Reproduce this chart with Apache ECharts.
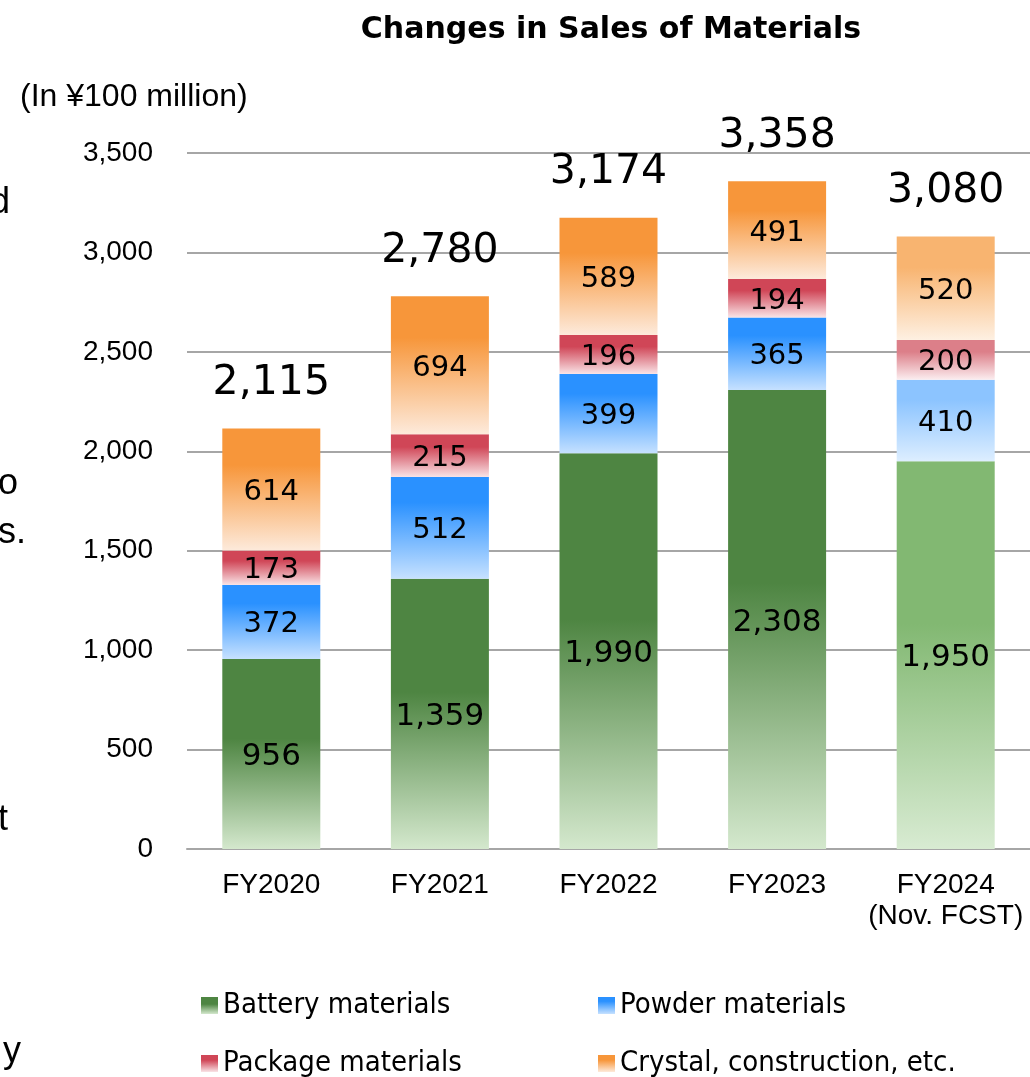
<!DOCTYPE html>
<html lang="en" style="height: 100%">

<head>
  <meta charset="utf-8">
</head>

<body style="height: 100%; margin: 0">
  <div id="container" style="width: 1030px; height: 1077px"></div>

  <script type="text/javascript" src="https://fastly.jsdelivr.net/npm/echarts@6/dist/echarts.min.js"></script>
  <script type="text/javascript">
    // values (In ¥100 million)
    var categories = ['FY2020', 'FY2021', 'FY2022', 'FY2023', 'FY2024\n(Nov. FCST)'];
    var battery = [956, 1359, 1990, 2308, 1950];
    var powder = [372, 512, 399, 365, 410];
    var packageMat = [173, 215, 196, 194, 200];
    var crystal = [614, 694, 589, 491, 520];
    var totals = [2115, 2780, 3174, 3358, 3080];
    var forecastIndex = 4;

    var dom = document.getElementById('container');
    var myChart = echarts.init(dom, null, { renderer: 'canvas' });

    function commas(v) {
      return echarts.format.addCommas(v);
    }

    // solid colour at the top, fading out toward the bottom of each segment
    function grad(top, bottom, hold) {
      return new echarts.graphic.LinearGradient(0, 0, 0, 1, [
        { offset: 0, color: top },
        { offset: hold, color: top },
        { offset: 1, color: bottom }
      ]);
    }

    function barSeries(name, values, colors, fcColors, hold, labelSize) {
      return {
        name: name,
        type: 'bar',
        stack: 'sales',
        barWidth: 98,
        itemStyle: { color: grad(colors[0], colors[1], hold) },
        label: {
          show: true,
          position: 'inside',
          offset: [0, 3],
          color: '#000',
          fontFamily: 'DejaVu Sans',
          fontSize: labelSize,
          formatter: function (p) { return commas(p.value); }
        },
        data: values.map(function (v, i) {
          if (i === forecastIndex) {
            return { value: v, itemStyle: { color: grad(fcColors[0], fcColors[1], hold) } };
          }
          return v;
        })
      };
    }

    var legendText = { fontFamily: 'DejaVu Sans Condensed', fontSize: 29, color: '#000' };
    var fragFont = '36px "Liberation Sans"';

    var option = {
      animation: false,
      title: [
        {
          text: 'Changes in Sales of Materials',
          left: 611,
          top: 15,
          textAlign: 'center',
          padding: 0,
          textStyle: { fontFamily: 'DejaVu Sans', fontWeight: 'bold', fontSize: 30, color: '#000' }
        },
        {
          text: '(In ¥100 million)',
          left: 20,
          top: 81,
          padding: 0,
          textStyle: { fontFamily: 'Liberation Sans', fontWeight: 'normal', fontSize: 32, color: '#000' }
        }
      ],
      legend: [
        {
          orient: 'vertical',
          left: 196,
          top: 986,
          height: 200,
          itemGap: 29,
          itemWidth: 17,
          itemHeight: 17,
          icon: 'rect',
          selectedMode: false,
          data: ['Battery materials', 'Package materials'],
          textStyle: legendText
        },
        {
          orient: 'vertical',
          left: 593,
          top: 986,
          height: 200,
          itemGap: 29,
          itemWidth: 17,
          itemHeight: 17,
          icon: 'rect',
          selectedMode: false,
          data: ['Powder materials', 'Crystal, construction, etc.'],
          textStyle: legendText
        }
      ],
      grid: {
        left: 187,
        top: 153,
        width: 850,
        height: 696
      },
      xAxis: {
        type: 'category',
        data: categories,
        axisTick: { show: false },
        axisLine: { lineStyle: { color: '#a6a6a6', width: 2 } },
        axisLabel: {
          interval: 0,
          margin: 21,
          lineHeight: 31,
          fontFamily: 'Liberation Sans',
          fontSize: 28,
          color: '#000'
        }
      },
      yAxis: {
        type: 'value',
        min: 0,
        max: 3500,
        interval: 500,
        axisLine: { show: false },
        axisTick: { show: false },
        splitLine: { lineStyle: { color: '#a6a6a6', width: 2 } },
        axisLabel: {
          margin: 34,
          fontFamily: 'Liberation Sans',
          fontSize: 28,
          color: '#000',
          formatter: function (v) { return commas(v); }
        }
      },
      series: [
        barSeries('Battery materials', battery, ['#4e8542', '#d4e8cd'], ['#82b872', '#d8ebd2'], 0.42, 31),
        barSeries('Powder materials', powder, ['#2a91ff', '#c6e1ff'], ['#8cc4ff', '#ddeeff'], 0.25, 29),
        barSeries('Package materials', packageMat, ['#d04657', '#f9e3e6'], ['#dc7f89', '#fbedef'], 0.3, 29),
        barSeries('Crystal, construction, etc.', crystal, ['#f7963a', '#fdeadb'], ['#f8b470', '#fef0e2'], 0.3, 29),
        {
          name: 'Total',
          type: 'line',
          data: totals,
          symbol: 'circle',
          symbolSize: 1,
          silent: true,
          z: 10,
          itemStyle: { color: 'rgba(0,0,0,0)' },
          lineStyle: { opacity: 0 },
          label: {
            show: true,
            position: 'top',
            distance: 24,
            fontFamily: 'DejaVu Sans',
            fontSize: 41,
            color: '#000',
            formatter: function (p) { return commas(p.value); }
          }
        }
      ],
      // clipped text from the neighbouring page column
      graphic: [
        { type: 'text', x: 10, y: 203, style: { text: 'd', font: fragFont, fill: '#000', align: 'right', verticalAlign: 'middle' } },
        { type: 'text', x: 18, y: 484, style: { text: 'o', font: fragFont, fill: '#000', align: 'right', verticalAlign: 'middle' } },
        { type: 'text', x: 26, y: 533, style: { text: 's.', font: fragFont, fill: '#000', align: 'right', verticalAlign: 'middle' } },
        { type: 'text', x: 8, y: 820, style: { text: 't', font: fragFont, fill: '#000', align: 'right', verticalAlign: 'middle' } },
        { type: 'text', x: 21, y: 1052, style: { text: 'y', font: fragFont, fill: '#000', align: 'right', verticalAlign: 'middle' } }
      ]
    };

    if (option && typeof option === 'object') {
      myChart.setOption(option);
    }

    window.addEventListener('resize', myChart.resize);
  </script>
</body>

</html>
